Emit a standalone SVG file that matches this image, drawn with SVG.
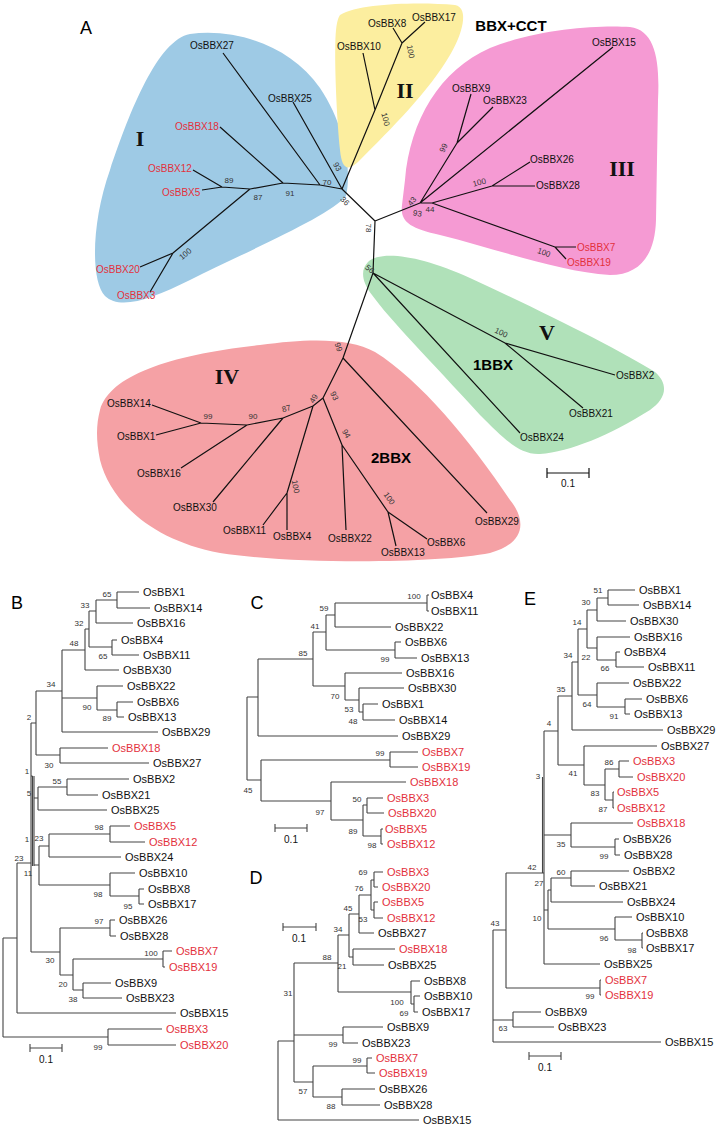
<svg xmlns="http://www.w3.org/2000/svg" width="718" height="1128" viewBox="0 0 718 1128">
<style>
.bg{fill:#fff}
.ta{font-family:"Liberation Sans",Arial,sans-serif;font-size:10px;fill:#111}
.tb{font-family:"Liberation Sans",Arial,sans-serif;font-size:11px;fill:#111}
.r{fill:#e3303c}
.bs{font-family:"Liberation Sans",Arial,sans-serif;font-size:8px;fill:#333;text-anchor:middle}
.rom{font-family:"Liberation Serif","Times New Roman",serif;font-size:22px;font-weight:bold;fill:#111;text-anchor:middle}
.grp{font-family:"Liberation Sans",Arial,sans-serif;font-size:15px;font-weight:bold;fill:#000;text-anchor:middle}
.pl{font-family:"Liberation Sans",Arial,sans-serif;font-size:18px;fill:#000;text-anchor:middle}
.ea{fill:none;stroke:#111;stroke-width:1.2;stroke-linejoin:round}
.eb{fill:none;stroke:#444;stroke-width:1.1}
.sc{font-family:"Liberation Sans",Arial,sans-serif;font-size:10px;fill:#111;text-anchor:middle}
</style>
<rect class="bg" x="0" y="0" width="718" height="1128"/>

<!-- Panel A clade blobs -->
<g id="cladeI"><path fill="#9ecae5" d="M190,34 C235,28 290,45 320,88 C345,125 352,170 346,196 C330,216 250,250 190,280 C150,300 120,310 105,296 C90,280 92,220 110,170 C130,110 158,40 190,34 Z"/></g>
<g id="cladeII"><path fill="#fcee9f" d="M340,15 C360,3 420,2 455,5 C470,8 462,35 450,55 C430,90 390,130 360,160 C348,172 342,170 340,150 C336,110 334,50 336,30 C337,22 338,18 340,15 Z"/></g>
<g id="cladeIII"><path fill="#f59ad3" d="M405,180 C410,120 440,70 490,48 C540,28 600,25 630,27 C655,30 660,60 658,100 L656,220 C655,255 640,275 610,275 C560,272 500,250 440,235 C410,228 400,222 402,205 Z"/></g>
<g id="cladeV"><path fill="#b0e1b9" d="M368,262 C380,250 420,255 470,278 C540,310 620,350 655,372 C670,385 665,400 650,410 C610,435 570,452 540,454 C520,455 505,440 480,415 C430,360 390,320 372,295 C362,282 360,270 368,262 Z"/></g>
<g id="cladeIV"><path fill="#f5a1a5" d="M100,410 C110,375 170,355 260,345 C310,338 350,338 375,352 C420,380 470,440 510,500 C530,525 520,545 490,553 C440,563 300,565 220,553 C150,540 110,500 100,460 C96,440 96,425 100,410 Z"/></g>

<text class="pl" x="86" y="34">A</text>

<!-- Panel A connectors -->
<g id="edgesA" class="ea">
<path d="M342,189 L293,102 M342,189 L320,185 L223,53 M320,185 L283,183 L220,127 M283,183 L250,189 L222,187 L193,170 M222,187 L202,190 M250,189 L173,253 L140,267 M173,253 L150,292"/>
<path d="M342,189 L375,221 L420,203 M375,221 L373,273"/>
<path d="M342,189 L375,110 L363,53 M375,110 L402,43 L393,28 M402,43 L425,22"/>
<path d="M420,203 L457,143 L471,94 M457,143 L493,107 M420,203 L613,47 M420,203 L432,203 L492,186 L530,162 M492,186 L535,186 M432,203 L555,247 L576,247 M555,247 L566,259"/>
<path d="M373,273 L505,343 L615,375 M505,343 L583,408 M373,273 L520,433 M373,273 L343,358"/>
<path d="M343,358 L323,398 L342,445 L346,530 M342,445 L388,512 L427,539 M388,512 L396,546 M343,358 L487,513 M323,398 L313,406 L287,493 L263,525 M287,493 L287,530 M313,406 L283,418 L213,502 M283,418 L247,425 L181,468 M247,425 L201,423 L152,405 M201,423 L156,435"/>
<path d="M547,473 H589 M547,468 V478 M589,468 V478"/>
</g>
<text class="sc" x="568" y="487" font-size="9">0.1</text>

<!-- Panel A leaves -->
<g id="A_leaves">
<text class="ta" x="190" y="49">OsBBX27</text>
<text class="ta" x="268" y="102">OsBBX25</text>
<text class="ta r" x="175" y="130">OsBBX18</text>
<text class="ta r" x="148" y="172">OsBBX12</text>
<text class="ta r" x="162" y="196">OsBBX5</text>
<text class="ta r" x="96" y="273">OsBBX20</text>
<text class="ta r" x="117" y="299">OsBBX3</text>
<text class="ta" x="337" y="50">OsBBX10</text>
<text class="ta" x="368" y="27">OsBBX8</text>
<text class="ta" x="412" y="21">OsBBX17</text>
<text class="ta" x="592" y="46">OsBBX15</text>
<text class="ta" x="452" y="92">OsBBX9</text>
<text class="ta" x="483" y="104">OsBBX23</text>
<text class="ta" x="530" y="163">OsBBX26</text>
<text class="ta" x="536" y="189">OsBBX28</text>
<text class="ta r" x="577" y="251">OsBBX7</text>
<text class="ta r" x="567" y="266">OsBBX19</text>
<text class="ta" x="616" y="379">OsBBX2</text>
<text class="ta" x="569" y="417">OsBBX21</text>
<text class="ta" x="520" y="441">OsBBX24</text>
<text class="ta" x="107" y="407">OsBBX14</text>
<text class="ta" x="117" y="440">OsBBX1</text>
<text class="ta" x="137" y="477">OsBBX16</text>
<text class="ta" x="173" y="511">OsBBX30</text>
<text class="ta" x="223" y="534">OsBBX11</text>
<text class="ta" x="273" y="540">OsBBX4</text>
<text class="ta" x="328" y="542">OsBBX22</text>
<text class="ta" x="427" y="546">OsBBX6</text>
<text class="ta" x="381" y="556">OsBBX13</text>
<text class="ta" x="475" y="525">OsBBX29</text>
</g>

<!-- Panel A bootstrap values -->
<g id="A_boot">
<text class="bs" x="229" y="183">89</text>
<text class="bs" x="258" y="200">87</text>
<text class="bs" x="290" y="196">91</text>
<text class="bs" x="327" y="185">70</text>
<text class="bs" transform="translate(335,168) rotate(60)">93</text>
<text class="bs" transform="translate(343,203) rotate(45)">36</text>
<text class="bs" transform="translate(187,256) rotate(-40)">100</text>
<text class="bs" transform="translate(383,120) rotate(75)">100</text>
<text class="bs" transform="translate(408,52) rotate(80)">100</text>
<text class="bs" transform="translate(366,228) rotate(90)">78</text>
<text class="bs" transform="translate(446,149) rotate(-65)">99</text>
<text class="bs" transform="translate(414,203) rotate(-50)">43</text>
<text class="bs" transform="translate(417,216) rotate(10)">93</text>
<text class="bs" x="430" y="212">44</text>
<text class="bs" transform="translate(480,185) rotate(-15)">100</text>
<text class="bs" transform="translate(543,255) rotate(20)">100</text>
<text class="bs" transform="translate(368,271) rotate(40)">56</text>
<text class="bs" transform="translate(500,335) rotate(25)">100</text>
<text class="bs" transform="translate(336,348) rotate(70)">99</text>
<text class="bs" transform="translate(316,400) rotate(-60)">49</text>
<text class="bs" transform="translate(332,397) rotate(65)">93</text>
<text class="bs" transform="translate(344,435) rotate(60)">94</text>
<text class="bs" transform="translate(293,487) rotate(80)">100</text>
<text class="bs" transform="translate(387,500) rotate(55)">100</text>
<text class="bs" x="208" y="419">99</text>
<text class="bs" x="253" y="419">90</text>
<text class="bs" transform="translate(287,411) rotate(-15)">87</text>
</g>

<text class="rom" x="140" y="146">I</text>
<text class="rom" x="405" y="98">II</text>
<text class="rom" x="622" y="176">III</text>
<text class="rom" x="227" y="384">IV</text>
<text class="rom" x="547" y="340">V</text>
<text class="grp" x="511" y="31">BBX+CCT</text>
<text class="grp" x="493" y="370">1BBX</text>
<text class="grp" x="391" y="463">2BBX</text>

<!-- Panel B -->
<text class="pl" x="17" y="609">B</text>
<g id="edgesB" class="eb">
<path d="M117,592 H139 M117,608 H150 M117,592 V608 M96,600 H117 M96,623 H133 M96,600 V623 M112,640 H117 M112,655 H139 M112,640 V655 M89,611 H96 M89,647 H112 M89,611 V647 M85,629 H89 M85,670 H119 M85,629 V670"/>
<path d="M117,702 H133 M117,717 H124 M117,702 V717 M97,686 H123 M97,710 H117 M97,686 V710 M62,650 H85 M62,698 H97 M62,732 H158 M62,650 V732 M60,748 H108 M60,763 H149 M60,748 V763 M36,691 H62 M36,755 H60 M36,691 V755"/>
<path d="M67,779 H129 M67,795 H98 M67,779 V795 M38,787 H67 M38,810 H107 M38,787 V810 M110,826 H130 M110,842 H145 M110,826 V842 M49,834 H110 M49,857 H121 M49,834 V857 M139,889 H144 M139,904 H144 M139,889 V904 M110,873 H135 M110,896 H139 M110,873 V896 M39,846 H49 M39,885 H110 M39,846 V885"/>
<path d="M110,920 H115 M110,936 H116 M110,920 V936 M163,951 H172 M163,967 H165 M163,951 V967 M83,983 H111 M83,998 H122 M83,983 V998 M73,959 H163 M73,990 H83 M73,959 V990 M60,928 H110 M60,975 H73 M60,928 V975"/>
<path d="M31,723 V952 M31,723 H36 M31,952 H60 M32.5,776 V866 M34,776 V866 M32.5,776 H31 M34,798 H38 M34,865 H39 M17,863 H31 M17,1013 H176 M17,863 V1013 M108,1029 H162 M108,1045 H176 M108,1029 V1045 M3,938 H17 M3,1037 H108 M3,938 V1037"/>
<path d="M30,1048 H62 M30,1044 V1052 M62,1044 V1052"/>
</g>
<text class="sc" x="46" y="1063">0.1</text>
<g id="B_leaves">
<text class="tb" x="143" y="596">OsBBX1</text>
<text class="tb" x="154" y="612">OsBBX14</text>
<text class="tb" x="137" y="627">OsBBX16</text>
<text class="tb" x="121" y="644">OsBBX4</text>
<text class="tb" x="143" y="659">OsBBX11</text>
<text class="tb" x="123" y="674">OsBBX30</text>
<text class="tb" x="127" y="690">OsBBX22</text>
<text class="tb" x="137" y="706">OsBBX6</text>
<text class="tb" x="128" y="721">OsBBX13</text>
<text class="tb" x="162" y="736">OsBBX29</text>
<text class="tb r" x="112" y="752">OsBBX18</text>
<text class="tb" x="153" y="767">OsBBX27</text>
<text class="tb" x="133" y="783">OsBBX2</text>
<text class="tb" x="102" y="799">OsBBX21</text>
<text class="tb" x="111" y="814">OsBBX25</text>
<text class="tb r" x="134" y="830">OsBBX5</text>
<text class="tb r" x="149" y="846">OsBBX12</text>
<text class="tb" x="125" y="861">OsBBX24</text>
<text class="tb" x="139" y="877">OsBBX10</text>
<text class="tb" x="148" y="893">OsBBX8</text>
<text class="tb" x="148" y="908">OsBBX17</text>
<text class="tb" x="119" y="924">OsBBX26</text>
<text class="tb" x="120" y="940">OsBBX28</text>
<text class="tb r" x="176" y="955">OsBBX7</text>
<text class="tb r" x="169" y="971">OsBBX19</text>
<text class="tb" x="115" y="987">OsBBX9</text>
<text class="tb" x="126" y="1002">OsBBX23</text>
<text class="tb" x="180" y="1017">OsBBX15</text>
<text class="tb r" x="166" y="1033">OsBBX3</text>
<text class="tb r" x="180" y="1049">OsBBX20</text>
</g>
<g id="B_boot">
<text class="bs" x="107" y="597">65</text>
<text class="bs" x="85" y="608">33</text>
<text class="bs" x="103" y="659">65</text>
<text class="bs" x="79" y="626">32</text>
<text class="bs" x="74" y="646">48</text>
<text class="bs" x="107" y="721">89</text>
<text class="bs" x="87" y="710">90</text>
<text class="bs" x="51" y="687">34</text>
<text class="bs" x="29" y="720">2</text>
<text class="bs" x="49" y="768">30</text>
<text class="bs" x="57" y="784">55</text>
<text class="bs" x="29" y="796">5</text>
<text class="bs" x="27" y="774">1</text>
<text class="bs" x="99" y="830">98</text>
<text class="bs" x="27" y="842">1</text>
<text class="bs" x="39" y="841">23</text>
<text class="bs" x="98" y="897">98</text>
<text class="bs" x="128" y="909">95</text>
<text class="bs" x="28" y="876">11</text>
<text class="bs" x="99" y="924">97</text>
<text class="bs" x="151" y="956">100</text>
<text class="bs" x="73" y="1002">38</text>
<text class="bs" x="63" y="987">20</text>
<text class="bs" x="50" y="963">30</text>
<text class="bs" x="19" y="861">23</text>
<text class="bs" x="98" y="1050">99</text>
</g>

<!-- Panel C -->
<text class="pl" x="257" y="609">C</text>
<g id="edgesC" class="eb">
<path d="M427,595 V611 M427,595 H429 M427,611 H429 M335,603 H427 M335,627 H391 M335,603 V627 M395,642 H401 M395,658 H417 M395,642 V658 M326,615 H335 M326,650 H395 M326,615 V650"/>
<path d="M363,704 H378 M363,720 H395 M363,704 V720 M359,688 H404 M359,712 H363 M359,688 V712 M345,673 H402 M345,700 H359 M345,673 V700 M313,632 H326 M313,686 H345 M313,632 V686 M258,659 H313 M258,736 H398 M258,659 V736"/>
<path d="M390,752 H418 M390,767 H418 M390,752 V767 M367,798 H383 M367,813 H384 M367,798 V813 M381,829 V844 M381,829 H383 M381,844 H383 M363,805 H367 M363,836 H381 M363,805 V836 M331,782 H406 M331,820 H363 M331,782 V820 M261,760 H390 M261,801 H331 M261,760 V801 M247,697 H258 M247,780 H261 M247,697 V780"/>
<path d="M275,828 H307 M275,824 V832 M307,824 V832"/>
</g>
<text class="sc" x="291" y="843">0.1</text>
<g id="C_leaves">
<text class="tb" x="431" y="599">OsBBX4</text>
<text class="tb" x="431" y="615">OsBBX11</text>
<text class="tb" x="395" y="631">OsBBX22</text>
<text class="tb" x="405" y="646">OsBBX6</text>
<text class="tb" x="421" y="662">OsBBX13</text>
<text class="tb" x="406" y="677">OsBBX16</text>
<text class="tb" x="408" y="692">OsBBX30</text>
<text class="tb" x="382" y="708">OsBBX1</text>
<text class="tb" x="399" y="724">OsBBX14</text>
<text class="tb" x="402" y="740">OsBBX29</text>
<text class="tb r" x="422" y="756">OsBBX7</text>
<text class="tb r" x="422" y="771">OsBBX19</text>
<text class="tb r" x="410" y="786">OsBBX18</text>
<text class="tb r" x="387" y="802">OsBBX3</text>
<text class="tb r" x="388" y="817">OsBBX20</text>
<text class="tb r" x="385" y="833">OsBBX5</text>
<text class="tb r" x="387" y="848">OsBBX12</text>
</g>
<g id="C_boot">
<text class="bs" x="414" y="599">100</text>
<text class="bs" x="324" y="611">59</text>
<text class="bs" x="315" y="629">41</text>
<text class="bs" x="385" y="662">99</text>
<text class="bs" x="303" y="656">85</text>
<text class="bs" x="335" y="699">70</text>
<text class="bs" x="349" y="712">53</text>
<text class="bs" x="353" y="724">48</text>
<text class="bs" x="380" y="756">99</text>
<text class="bs" x="248" y="793">45</text>
<text class="bs" x="357" y="802">50</text>
<text class="bs" x="320" y="815">97</text>
<text class="bs" x="353" y="834">89</text>
<text class="bs" x="372" y="848">98</text>
</g>

<!-- Panel D -->
<text class="pl" x="256" y="884">D</text>
<g id="edgesD" class="eb">
<path d="M374,872 H383 M374,887 H378 M374,872 V887 M374,902 H378 M374,918 H383 M374,902 V918 M371,880 H374 M371,910 H374 M371,880 V910 M359,895 H371 M359,933 H374 M359,895 V933 M353,949 H395 M353,965 H384 M353,949 V965 M349,914 H359 M349,957 H353 M349,914 V957"/>
<path d="M414,996 H420 M414,1012 H418 M414,996 V1012 M411,981 H420 M411,1004 H414 M411,981 V1004 M338,935 H349 M338,992 H411 M338,935 V992 M343,1027 H383 M343,1043 H358 M343,1027 V1043 M367,1058 H372 M367,1073 H375 M367,1058 V1073 M342,1089 H375 M342,1105 H380 M342,1089 V1105 M313,1066 H367 M313,1097 H342 M313,1066 V1097"/>
<path d="M294,963 H338 M294,1035 H343 M294,1082 H313 M294,963 V1082 M278,1041 H294 M278,1120 H419 M278,1041 V1120"/>
<path d="M283,927 H316 M283,923 V931 M316,923 V931"/>
</g>
<text class="sc" x="299" y="942">0.1</text>
<g id="D_leaves">
<text class="tb r" x="387" y="876">OsBBX3</text>
<text class="tb r" x="382" y="891">OsBBX20</text>
<text class="tb r" x="382" y="906">OsBBX5</text>
<text class="tb r" x="387" y="922">OsBBX12</text>
<text class="tb" x="378" y="937">OsBBX27</text>
<text class="tb r" x="399" y="953">OsBBX18</text>
<text class="tb" x="388" y="969">OsBBX25</text>
<text class="tb" x="424" y="985">OsBBX8</text>
<text class="tb" x="424" y="1000">OsBBX10</text>
<text class="tb" x="422" y="1016">OsBBX17</text>
<text class="tb" x="387" y="1031">OsBBX9</text>
<text class="tb" x="362" y="1047">OsBBX23</text>
<text class="tb r" x="376" y="1062">OsBBX7</text>
<text class="tb r" x="379" y="1077">OsBBX19</text>
<text class="tb" x="379" y="1093">OsBBX26</text>
<text class="tb" x="384" y="1109">OsBBX28</text>
<text class="tb" x="423" y="1124">OsBBX15</text>
</g>
<g id="D_boot">
<text class="bs" x="363" y="875">69</text>
<text class="bs" x="359" y="891">76</text>
<text class="bs" x="348" y="911">45</text>
<text class="bs" x="363" y="922">53</text>
<text class="bs" x="338" y="932">34</text>
<text class="bs" x="327" y="960">88</text>
<text class="bs" x="342" y="969">21</text>
<text class="bs" x="288" y="996">31</text>
<text class="bs" x="397" y="1005">100</text>
<text class="bs" x="404" y="1016">69</text>
<text class="bs" x="333" y="1047">99</text>
<text class="bs" x="357" y="1063">99</text>
<text class="bs" x="303" y="1094">57</text>
<text class="bs" x="331" y="1109">88</text>
</g>

<!-- Panel E -->
<text class="pl" x="530" y="605">E</text>
<g id="edgesE" class="eb">
<path d="M608,590 H635 M608,605 H639 M608,590 V605 M597,598 H608 M597,621 H626 M597,598 V621 M616,652 H620 M616,667 H644 M616,652 V667 M597,637 H630 M597,660 H616 M597,637 V660 M587,610 H597 M587,648 H597 M587,610 V648"/>
<path d="M625,699 H642 M625,714 H630 M625,699 V714 M597,683 H629 M597,707 H625 M597,683 V707 M578,629 H587 M578,695 H597 M578,629 V695 M572,662 H578 M572,730 H663 M572,662 V730"/>
<path d="M619,761 H629 M619,777 H633 M619,761 V777 M613,792 V808 M613,792 H614 M613,808 H614 M605,769 H619 M605,800 H613 M605,769 V800 M584,746 H657 M584,785 H605 M584,746 V785 M558,696 H572 M558,765 H584 M558,696 V765"/>
<path d="M615,839 H619 M615,855 H620 M615,839 V855 M571,823 H633 M571,847 H615 M571,823 V847 M642,933 V948 M642,933 H643 M642,948 H643 M615,917 H632 M615,940 H642 M615,917 V940 M571,871 H629 M571,886 H595 M571,871 V886 M551,878 H571 M551,902 H623 M551,878 V902 M548,890 H551 M548,929 H615 M548,890 V929"/>
<path d="M544,731 H558 M544,835 H571 M544,910 H548 M544,964 H600 M544,731 V964 M542.5,777 V873 M506,873 H544 M506,988 H600 M506,873 V988 M600,980 V995 M600,980 H601 M600,995 H601 M513,1012 H541 M513,1027 H554 M513,1012 V1027 M493,930 H506 M493,1020 H513 M493,1042 H661 M493,930 V1042"/>
<path d="M529,1056 H561 M529,1052 V1060 M561,1052 V1060"/>
</g>
<text class="sc" x="545" y="1071">0.1</text>
<g id="E_leaves">
<text class="tb" x="639" y="594">OsBBX1</text>
<text class="tb" x="643" y="609">OsBBX14</text>
<text class="tb" x="630" y="625">OsBBX30</text>
<text class="tb" x="634" y="641">OsBBX16</text>
<text class="tb" x="624" y="656">OsBBX4</text>
<text class="tb" x="648" y="671">OsBBX11</text>
<text class="tb" x="633" y="687">OsBBX22</text>
<text class="tb" x="646" y="703">OsBBX6</text>
<text class="tb" x="634" y="718">OsBBX13</text>
<text class="tb" x="667" y="734">OsBBX29</text>
<text class="tb" x="661" y="750">OsBBX27</text>
<text class="tb r" x="633" y="765">OsBBX3</text>
<text class="tb r" x="637" y="781">OsBBX20</text>
<text class="tb r" x="617" y="796">OsBBX5</text>
<text class="tb r" x="617" y="812">OsBBX12</text>
<text class="tb r" x="637" y="827">OsBBX18</text>
<text class="tb" x="623" y="843">OsBBX26</text>
<text class="tb" x="624" y="859">OsBBX28</text>
<text class="tb" x="633" y="875">OsBBX2</text>
<text class="tb" x="599" y="890">OsBBX21</text>
<text class="tb" x="627" y="906">OsBBX24</text>
<text class="tb" x="636" y="921">OsBBX10</text>
<text class="tb" x="646" y="937">OsBBX8</text>
<text class="tb" x="646" y="952">OsBBX17</text>
<text class="tb" x="604" y="968">OsBBX25</text>
<text class="tb r" x="605" y="984">OsBBX7</text>
<text class="tb r" x="605" y="999">OsBBX19</text>
<text class="tb" x="545" y="1016">OsBBX9</text>
<text class="tb" x="558" y="1031">OsBBX23</text>
<text class="tb" x="665" y="1046">OsBBX15</text>
</g>
<g id="E_boot">
<text class="bs" x="598" y="593">51</text>
<text class="bs" x="586" y="605">30</text>
<text class="bs" x="577" y="625">14</text>
<text class="bs" x="568" y="658">34</text>
<text class="bs" x="586" y="660">22</text>
<text class="bs" x="605" y="671">66</text>
<text class="bs" x="561" y="692">35</text>
<text class="bs" x="587" y="707">64</text>
<text class="bs" x="614" y="719">91</text>
<text class="bs" x="549" y="726">4</text>
<text class="bs" x="609" y="765">86</text>
<text class="bs" x="573" y="776">41</text>
<text class="bs" x="538" y="779">3</text>
<text class="bs" x="595" y="796">83</text>
<text class="bs" x="603" y="812">87</text>
<text class="bs" x="561" y="847">35</text>
<text class="bs" x="604" y="859">99</text>
<text class="bs" x="532" y="870">42</text>
<text class="bs" x="561" y="875">60</text>
<text class="bs" x="539" y="886">27</text>
<text class="bs" x="537" y="921">10</text>
<text class="bs" x="604" y="941">96</text>
<text class="bs" x="632" y="953">98</text>
<text class="bs" x="495" y="926">43</text>
<text class="bs" x="590" y="999">99</text>
<text class="bs" x="503" y="1031">63</text>
</g>
</svg>
